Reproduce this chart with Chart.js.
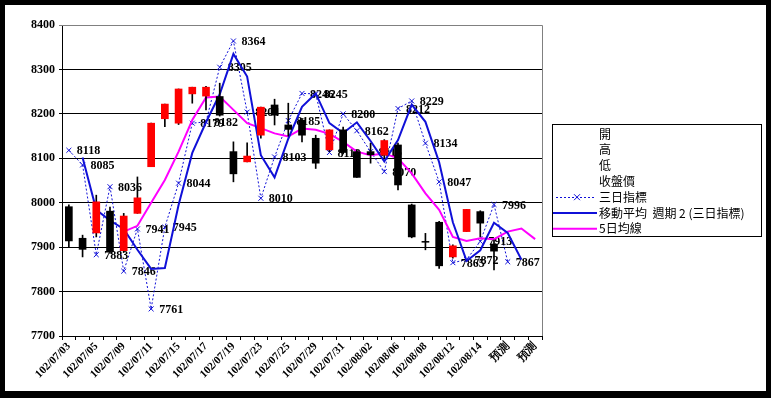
<!DOCTYPE html>
<html>
<head>
<meta charset="utf-8">
<script src="https://cdn.jsdelivr.net/npm/chart.js@4/dist/chart.umd.min.js"></script>
<style>
  html, body { margin: 0; padding: 0; background: #000; }
  #wrap { position: relative; width: 771px; height: 398px; }
  canvas { display: block; }
</style>
</head>
<body>
<div id="wrap"><canvas id="c" width="771" height="398"></canvas></div>
<script>
// ---- data ----
const categories = ['102/07/03','102/07/04','102/07/05','102/07/08','102/07/09','102/07/10','102/07/11','102/07/12',
  '102/07/15','102/07/16','102/07/17','102/07/18','102/07/19','102/07/22','102/07/23','102/07/24','102/07/25',
  '102/07/26','102/07/29','102/07/30','102/07/31','102/08/01','102/08/02','102/08/05','102/08/06','102/08/07',
  '102/08/08','102/08/09','102/08/12','102/08/13','102/08/14','102/08/15','預測','預測','預測'];

const openVals  = [7991,7920,7932,7981,7892,7976,8081,8189,8179,8245,8240,8239,8115,8092,8152,8220,8175,8186,8145,8119,8164,8115,8115,8107,8130,7995,7913,7956,7878,7935,7980,7907,null,null,null];
const highVals  = [7995,7927,8017,7990,7976,8058,8179,8222,8256,8260,8262,8269,8137,8135,8215,8233,8224,8190,8152,8164,8170,8118,8134,8142,8134,7997,7931,7958,7905,7985,7982,7916,null,null,null];
const lowVals   = [7901,7878,7923,7886,7888,7976,8081,8171,8176,8224,8209,8195,8047,8092,8145,8175,8150,8137,8077,8115,8110,8057,8089,8100,8029,7921,7894,7852,7875,7935,7923,7849,null,null,null];
const closeVals = [7914,7895,8002,7890,7970,8011,8179,8222,8256,8260,8260,8197,8065,8105,8215,8197,8165,8152,8089,8164,8113,8057,8108,8140,8040,7923,7911,7858,7903,7985,7954,7891,null,null,null];

const threeDayIndex = [8118,8085,7883,8036,7846,7941,7761,7945,8044,8179,8182,8305,8364,8204,8010,8103,8185,8246,8245,8113,8200,8162,8115,8070,8212,8229,8134,8047,7865,7872,7913,7996,7867,null,null];
const movingAvg2 = [null,8102,7984,7960,7941,7894,7851,7853,7995,8112,8181,8244,8335,8284,8107,8057,8144,8216,8246,8179,8157,8181,8139,8093,8141,8221,8182,8091,7956,7869,7893,7955,7932,7872,null];
const ma5Day = [null,null,null,null,7935,7948,8000,8051,8115,8186,8237,8239,8209,8179,8168,8156,8149,8167,8164,8155,8137,8115,8107,8111,8100,8066,8021,7984,7923,7914,7920,7918,7935,7942,7918];

const yTickValues = [7700,7800,7900,8000,8100,8200,8300,8400];
const seriesNames = ['開','高','低','收盤價','三日指標','移動平均  週期 2 (三日指標)','5日均線'];

// ---- derived tables for the library ----
const wickData = categories.map((_, i) => lowVals[i] == null ? null : [lowVals[i], highVals[i]]);
const bodyData = categories.map((_, i) => openVals[i] == null ? null : [openVals[i], closeVals[i]]);
const bodyColors = categories.map((_, i) => (closeVals[i] != null && closeVals[i] >= openVals[i]) ? '#FF0000' : '#000000');

const BLUE = '#1010D8';
const MAGENTA = '#FF00FF';

const bgPlugin = {
  id: 'bg',
  beforeDraw(chart) {
    const ctx = chart.ctx;
    ctx.save();
    ctx.fillStyle = '#000';
    ctx.fillRect(0, 0, chart.width, chart.height);
    ctx.fillStyle = '#fff';
    ctx.fillRect(5, 5, 761, 386);
    ctx.restore();
  },
  beforeDatasetsDraw(chart) {
    const { ctx, chartArea: a } = chart;
    ctx.save();
    ctx.strokeStyle = '#808080';
    ctx.lineWidth = 1;
    ctx.beginPath();
    ctx.moveTo(a.left, Math.round(a.top) + 0.5);
    ctx.lineTo(Math.round(a.right) + 0.5, Math.round(a.top) + 0.5);
    ctx.lineTo(Math.round(a.right) + 0.5, a.bottom);
    ctx.stroke();
    ctx.restore();
  }
};

const labelPlugin = {
  id: 'valueLabels',
  afterDatasetDraw(chart, args) {
    if (args.index !== 0) return;
    const ctx = chart.ctx;
    const meta = args.meta;
    ctx.save();
    ctx.font = 'bold 12px "Liberation Serif"';
    ctx.fillStyle = '#000';
    ctx.textAlign = 'left';
    ctx.textBaseline = 'middle';
    meta.data.forEach((pt, i) => {
      const v = threeDayIndex[i];
      if (v == null) return;
      ctx.fillText(String(v), pt.x + 8, pt.y + 1);
    });
    ctx.restore();
  }
};

const legendPlugin = {
  id: 'customLegend',
  afterDraw(chart) {
    const ctx = chart.ctx;
    const bx = 552, by = 124, bw = 209, bh = 112;
    ctx.save();
    ctx.fillStyle = '#fff';
    ctx.fillRect(bx, by, bw, bh);
    ctx.strokeStyle = '#000';
    ctx.lineWidth = 1;
    ctx.strokeRect(bx + 0.5, by + 0.5, bw, bh);
    ctx.font = '12px "Noto Sans CJK TC"';
    ctx.textAlign = 'left';
    ctx.textBaseline = 'middle';
    seriesNames.forEach((name, i) => {
      const y = 134 + i * 15.8;
      if (i === 4) {
        ctx.strokeStyle = BLUE; ctx.lineWidth = 1; ctx.setLineDash([2, 2]);
        ctx.beginPath(); ctx.moveTo(556, Math.round(y) + 0.5); ctx.lineTo(596, Math.round(y) + 0.5); ctx.stroke();
        ctx.setLineDash([]);
        ctx.beginPath();
        ctx.moveTo(574, y - 3); ctx.lineTo(580, y + 3);
        ctx.moveTo(580, y - 3); ctx.lineTo(574, y + 3);
        ctx.stroke();
      } else if (i === 5 || i === 6) {
        ctx.strokeStyle = i === 5 ? BLUE : MAGENTA; ctx.lineWidth = 2;
        ctx.beginPath(); ctx.moveTo(553, y); ctx.lineTo(597, y); ctx.stroke();
      }
      ctx.fillStyle = '#000';
      ctx.fillText(name, 599, y);
    });
    ctx.restore();
  }
};

new Chart(document.getElementById('c'), {
  data: {
    labels: categories,
    datasets: [
      { type: 'line', label: seriesNames[4], data: threeDayIndex, borderColor: BLUE, borderWidth: 1,
        borderDash: [2, 2], pointStyle: 'crossRot', pointRadius: 3.5, pointBorderColor: BLUE,
        pointBorderWidth: 1, tension: 0, fill: false, order: 3 },
      { type: 'line', label: seriesNames[5], data: movingAvg2, borderColor: BLUE, borderWidth: 2,
        pointRadius: 0, tension: 0, fill: false, order: 2 },
      { type: 'line', label: seriesNames[6], data: ma5Day, borderColor: MAGENTA, borderWidth: 2,
        pointRadius: 0, tension: 0, fill: false, order: 2 },
      { type: 'bar', label: 'wick', data: wickData, backgroundColor: '#000', barThickness: 1,
        grouped: false, order: 1 },
      { type: 'bar', label: 'body', data: bodyData, backgroundColor: bodyColors, barThickness: 7,
        grouped: false, order: 0 }
    ]
  },
  options: {
    responsive: false,
    animation: false,
    devicePixelRatio: 1,
    layout: { padding: { top: 25, right: 229, left: 0, bottom: 0 } },
    plugins: { legend: { display: false }, tooltip: { enabled: false } },
    scales: {
      x: {
        type: 'category',
        offset: true,
        afterFit(scale) { scale.height = 62; },
        grid: { offset: true, drawOnChartArea: false, drawTicks: true, tickLength: 4, color: '#000' },
        border: { color: '#000', width: 1 },
        ticks: {
          autoSkip: false, maxRotation: 45, minRotation: 45, padding: 0,
          color: '#000', font: { family: '"Liberation Serif"', size: 11, weight: 'bold' },
          callback(value, index) { return index % 2 === 0 ? categories[index] : ''; }
        }
      },
      y: {
        min: yTickValues[0],
        max: yTickValues[yTickValues.length - 1],
        afterFit(scale) { scale.width = 62; },
        afterBuildTicks(scale) { scale.ticks = yTickValues.map(v => ({ value: v })); },
        grid: {
          color: ctx => (ctx.tick && ctx.tick.value === 8400) ? '#808080' : '#000',
          lineWidth: 1, drawTicks: true, tickLength: 3
        },
        border: { color: '#000', width: 1 },
        ticks: {
          color: '#000', padding: 4, font: { family: '"Liberation Serif"', size: 12, weight: 'bold' },
          callback(value) { return String(value); }
        }
      }
    }
  },
  plugins: [bgPlugin, labelPlugin, legendPlugin]
});
</script>
</body>
</html>
